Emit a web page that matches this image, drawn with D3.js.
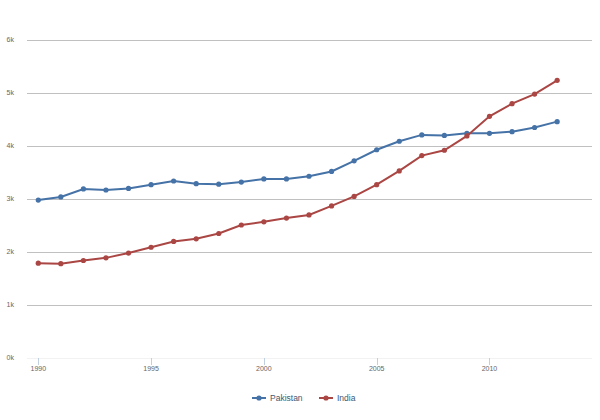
<!DOCTYPE html>
<html>
<head>
<meta charset="utf-8">
<script src="https://cdn.jsdelivr.net/npm/d3@7"></script>
<style>
  body { margin: 0; background: #fff; }
  svg { display: block; font-family: "Liberation Sans", Arial, sans-serif; }
</style>
</head>
<body>
<div id="chart"></div>
<script>
// data
var years = [1990, 1991, 1992, 1993, 1994, 1995, 1996, 1997, 1998, 1999, 2000, 2001,
  2002, 2003, 2004, 2005, 2006, 2007, 2008, 2009, 2010, 2011, 2012, 2013];
var pakistan = [2970, 3030, 3180, 3160, 3190, 3260, 3330, 3280, 3270, 3310, 3370, 3370,
  3420, 3510, 3710, 3920, 4080, 4200, 4190, 4230, 4230, 4260, 4340, 4450];
var india = [1780, 1770, 1830, 1880, 1970, 2080, 2190, 2240, 2340, 2500, 2560, 2630,
  2690, 2860, 3040, 3260, 3520, 3810, 3910, 4180, 4550, 4790, 4970, 5230];
var yTicks = [0, 1000, 2000, 3000, 4000, 5000, 6000];
var xTicks = [1990, 1995, 2000, 2005, 2010];

var series = [
  { name: "Pakistan", values: pakistan, color: "#4572A7" },
  { name: "India", values: india, color: "#AA4643" }
];

var width = 600, height = 420;
var svg = d3.select("#chart").append("svg")
  .attr("width", width)
  .attr("height", height);

var x = d3.scaleLinear().domain([1989.5, 2014.5]).range([27, 591]);
var y = d3.scaleLinear().domain([0, 6000]).range([357.5, 39.5]);

// grid lines
svg.append("g")
  .selectAll("line")
  .data(yTicks)
  .enter().append("line")
  .attr("x1", 27)
  .attr("x2", 592)
  .attr("y1", d => Math.round(y(d)) + 0.5)
  .attr("y2", d => Math.round(y(d)) + 0.5)
  .attr("stroke", d => d === 0 ? "#f2f2f2" : "#C0C0C0")
  .attr("stroke-width", 1);

// y labels
svg.append("g")
  .selectAll("text")
  .data(yTicks)
  .enter().append("text")
  .attr("x", 14)
  .attr("y", d => y(d) + 2.5)
  .attr("text-anchor", "end")
  .attr("fill", "#666")
  .style("font-size", "7px")
  .text(d => (d / 1000) + "k");

// x axis ticks + labels
var xg = svg.append("g");
xg.selectAll("line")
  .data(xTicks)
  .enter().append("line")
  .attr("x1", d => Math.round(x(d)) + 0.5)
  .attr("x2", d => Math.round(x(d)) + 0.5)
  .attr("y1", 358)
  .attr("y2", 365)
  .attr("stroke", "#C0D0E0");
xg.selectAll("text")
  .data(xTicks)
  .enter().append("text")
  .attr("x", d => x(d))
  .attr("y", 371)
  .attr("text-anchor", "middle")
  .attr("fill", "#666")
  .style("font-size", "7px")
  .text(d => d);

// lines and markers
var line = d3.line()
  .x((d, i) => x(years[i]))
  .y(d => y(d));

series.forEach(function (s) {
  svg.append("path")
    .datum(s.values)
    .attr("d", line)
    .attr("fill", "none")
    .attr("stroke", s.color)
    .attr("stroke-width", 2);
  svg.append("g")
    .selectAll("circle")
    .data(s.values)
    .enter().append("circle")
    .attr("cx", (d, i) => x(years[i]))
    .attr("cy", d => y(d))
    .attr("r", 2.6)
    .attr("fill", s.color);
});

// legend
var legendX = [252, 319];
var legend = svg.append("g")
  .selectAll("g")
  .data(series)
  .enter().append("g")
  .attr("transform", (d, i) => "translate(" + legendX[i] + ",398)");
legend.append("line")
  .attr("x1", 0).attr("x2", 14)
  .attr("stroke", d => d.color)
  .attr("stroke-width", 2);
legend.append("circle")
  .attr("cx", 7).attr("r", 2.6)
  .attr("fill", d => d.color);
legend.append("text")
  .attr("x", 18)
  .attr("y", 3)
  .attr("fill", "#3E576F")
  .style("font-size", "8.5px")
  .text(d => d.name);
</script>
</body>
</html>
